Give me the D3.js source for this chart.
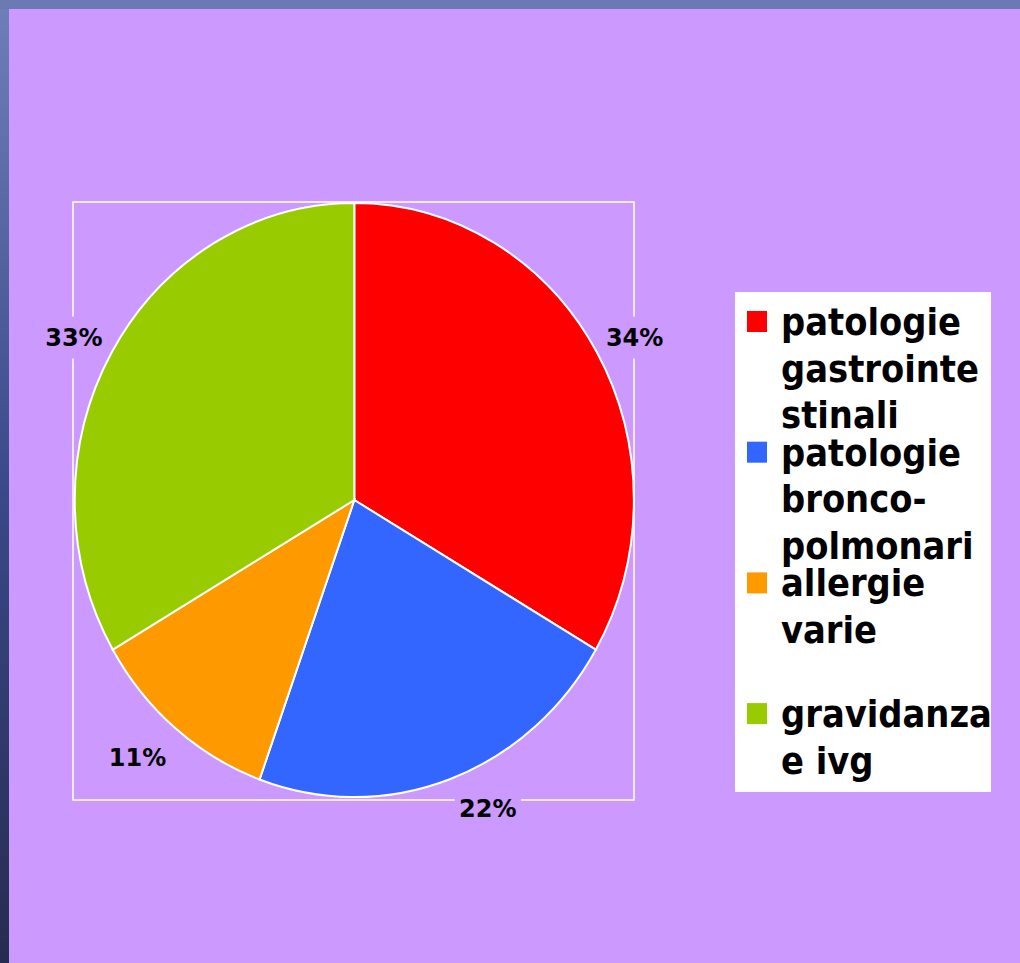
<!DOCTYPE html>
<html>
<head>
<meta charset="utf-8">
<script src="https://cdn.jsdelivr.net/npm/d3@7"></script>
<style>
  html, body { margin: 0; padding: 0; background: #CC99FF; }
  svg { display: block; }
</style>
</head>
<body>
<svg id="chart" width="1020" height="963"></svg>
<script>
// ---- data ----
const categories = ["patologie gastrointestinali", "patologie bronco-polmonari", "allergie varie", "gravidanza e ivg"];
const values = [33.4, 22.1, 11.1, 33.4];
const valueLabels = ["34%", "22%", "11%", "33%"];
const legendLines = [
  ["patologie", "gastrointe", "stinali"],
  ["patologie", "bronco-", "polmonari"],
  ["allergie", "varie"],
  ["gravidanza", "e ivg"]
];
const colors = ["#FF0000", "#3366FF", "#FF9900", "#99CC00"];

// ---- layout ----
const W = 1020, H = 963;
const svg = d3.select("#chart");
const defs = svg.append("defs");
const grad = defs.append("linearGradient").attr("id", "slideBg")
  .attr("x1", 0).attr("y1", 0).attr("x2", 0).attr("y2", 1);
grad.append("stop").attr("offset", "0%").attr("stop-color", "#6f80b8");
grad.append("stop").attr("offset", "50%").attr("stop-color", "#3a4a8a");
grad.append("stop").attr("offset", "100%").attr("stop-color", "#262c50");
svg.append("rect").attr("width", W).attr("height", H).attr("fill", "url(#slideBg)");
svg.append("rect").attr("x", 0).attr("y", 0).attr("width", W).attr("height", 9).attr("fill", "#6b7ab2");
svg.append("rect").attr("x", 9).attr("y", 9).attr("width", W - 9).attr("height", H - 9).attr("fill", "#CC99FF");

// plot frame
const frame = { x0: 73, y0: 202, x1: 634, y1: 800 };
svg.append("rect")
  .attr("x", frame.x0).attr("y", frame.y0)
  .attr("width", frame.x1 - frame.x0).attr("height", frame.y1 - frame.y0)
  .attr("fill", "none").attr("stroke", "#ffffff").attr("stroke-width", 1.5);

const cx = 354.3, cy = 500, rx = 279.5, ry = 297;
const pie = d3.pie().sort(null).value(d => d)(values);
const arc = d3.arc().innerRadius(0).outerRadius(1);

const pieG = svg.append("g").attr("transform", `translate(${cx},${cy}) scale(${rx},${ry})`);
pieG.selectAll("path").data(pie).join("path")
  .attr("d", arc)
  .attr("fill", (d, i) => colors[i])
  .attr("stroke", "#ffffff")
  .attr("stroke-width", 2)
  .attr("vector-effect", "non-scaling-stroke");

// data labels (outside end)
const labG = svg.append("g");
pie.forEach((d, i) => {
  const a = (d.startAngle + d.endAngle) / 2;
  const px = cx + rx * Math.sin(a), py = cy - ry * Math.cos(a);
  const lx = px + Math.sign(Math.sin(a)) * 38;
  const ly = py + (Math.cos(a) < 0 ? 29 : -14.5);
  labG.append("rect")
    .attr("x", lx - 33).attr("y", ly - 21).attr("width", 66).attr("height", 42)
    .attr("fill", "#CC99FF");
  labG.append("text")
    .attr("x", lx).attr("y", ly + 8.5)
    .attr("text-anchor", "middle")
    .attr("font-family", "DejaVu Sans, Verdana, sans-serif")
    .attr("font-weight", "bold")
    .attr("font-size", 24)
    .attr("fill", "#000000")
    .text(valueLabels[i]);
});

// legend
const leg = svg.append("g");
leg.append("rect").attr("x", 735).attr("y", 292).attr("width", 256).attr("height", 500).attr("fill", "#ffffff");
legendLines.forEach((lines, i) => {
  const base = 335 + i * 130.7;
  leg.append("rect")
    .attr("x", 747).attr("y", base - 24).attr("width", 20).attr("height", 21)
    .attr("fill", colors[i]);
  const t = leg.append("text")
    .attr("font-family", "DejaVu Sans Condensed, DejaVu Sans, sans-serif")
    .attr("font-weight", "bold")
    .attr("font-size", 37.6)
    .attr("fill", "#000000");
  lines.forEach((ln, j) => {
    t.append("tspan").attr("x", 781).attr("y", base + j * 46.5).text(ln);
  });
});
</script>
</body>
</html>
